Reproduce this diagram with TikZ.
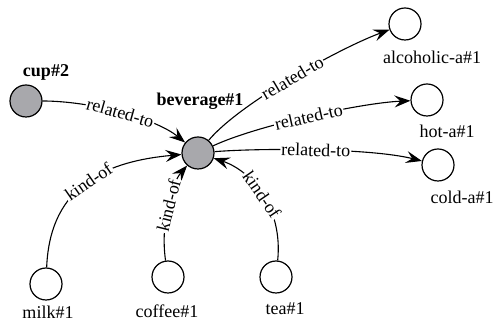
\documentclass[tikz,border=0pt]{standalone}
\usepackage{fontspec}
\setmainfont{Liberation Serif}
\usetikzlibrary{arrows.meta}
\definecolor{conceptgray}{RGB}{168,168,172}
\begin{document}
\begin{tikzpicture}[x=1pt,y=1pt,
  concept/.style={circle,draw,line width=1.2pt,minimum size=32pt,inner sep=0pt},
  focus/.style={concept,fill=conceptgray},
  cname/.style={font=\fontsize{18}{20}\selectfont,inner sep=0pt},
  bcname/.style={font=\fontsize{18}{20}\selectfont\bfseries,inner sep=0pt},
  rel/.style={line width=1.1pt,-{Stealth[length=16pt,width=12pt,inset=6pt]}},
  rellabel/.style={font=\fontsize{18}{20}\selectfont,sloped,fill=white,inner sep=1pt,pos=0.5}
]
\useasboundingbox (0,0) rectangle (495,323);

% concepts
\node[focus]   (cup)    at (26,222) {};
\node[focus]   (bev)    at (198,170) {};
\node[concept] (alc)    at (405,299) {};
\node[concept] (hot)    at (427,223) {};
\node[concept] (cold)   at (438,158) {};
\node[concept] (milk)   at (46,39) {};
\node[concept] (coffee) at (168,46) {};
\node[concept] (tea)    at (276,46) {};

% concept names
\node[bcname] (cupname)    at (46,251)  {cup\#2};
\node[bcname] (bevname)    at (200,222) {beverage\#1};
\node[cname]  (alcname)    at (432,266) {alcoholic-a\#1};
\node[cname]  (hotname)    at (447,192) {hot-a\#1};
\node[cname]  (coldname)   at (462,126) {cold-a\#1};
\node[cname]  (milkname)   at (48,11)   {milk\#1};
\node[cname]  (coffeename) at (167,12)  {coffee\#1};
\node[cname]  (teaname)    at (285,14)  {tea\#1};

% relations
\draw[rel] (cup) .. controls (90,222) and (155,205) .. node[rellabel] {related-to} (bev);
\draw[rel] (bev) .. controls (240,220) and (340,275) .. node[rellabel] {related-to} (alc);
\draw[rel] (bev) .. controls (255,197) and (360,220) .. node[rellabel] {related-to} (hot);
\draw[rel] (bev) .. controls (260,175) and (370,175) .. node[rellabel] {related-to} (cold);
\draw[rel] (milk) .. controls (50,140) and (110,162) .. node[rellabel] {kind-of} (bev);
\draw[rel] (coffee) .. controls (160,100) and (172,140) .. node[rellabel] {kind-of} (bev);
\draw[rel] (tea) .. controls (283,115) and (252,152) .. node[rellabel] {kind-of} (bev);
\end{tikzpicture}
\end{document}
